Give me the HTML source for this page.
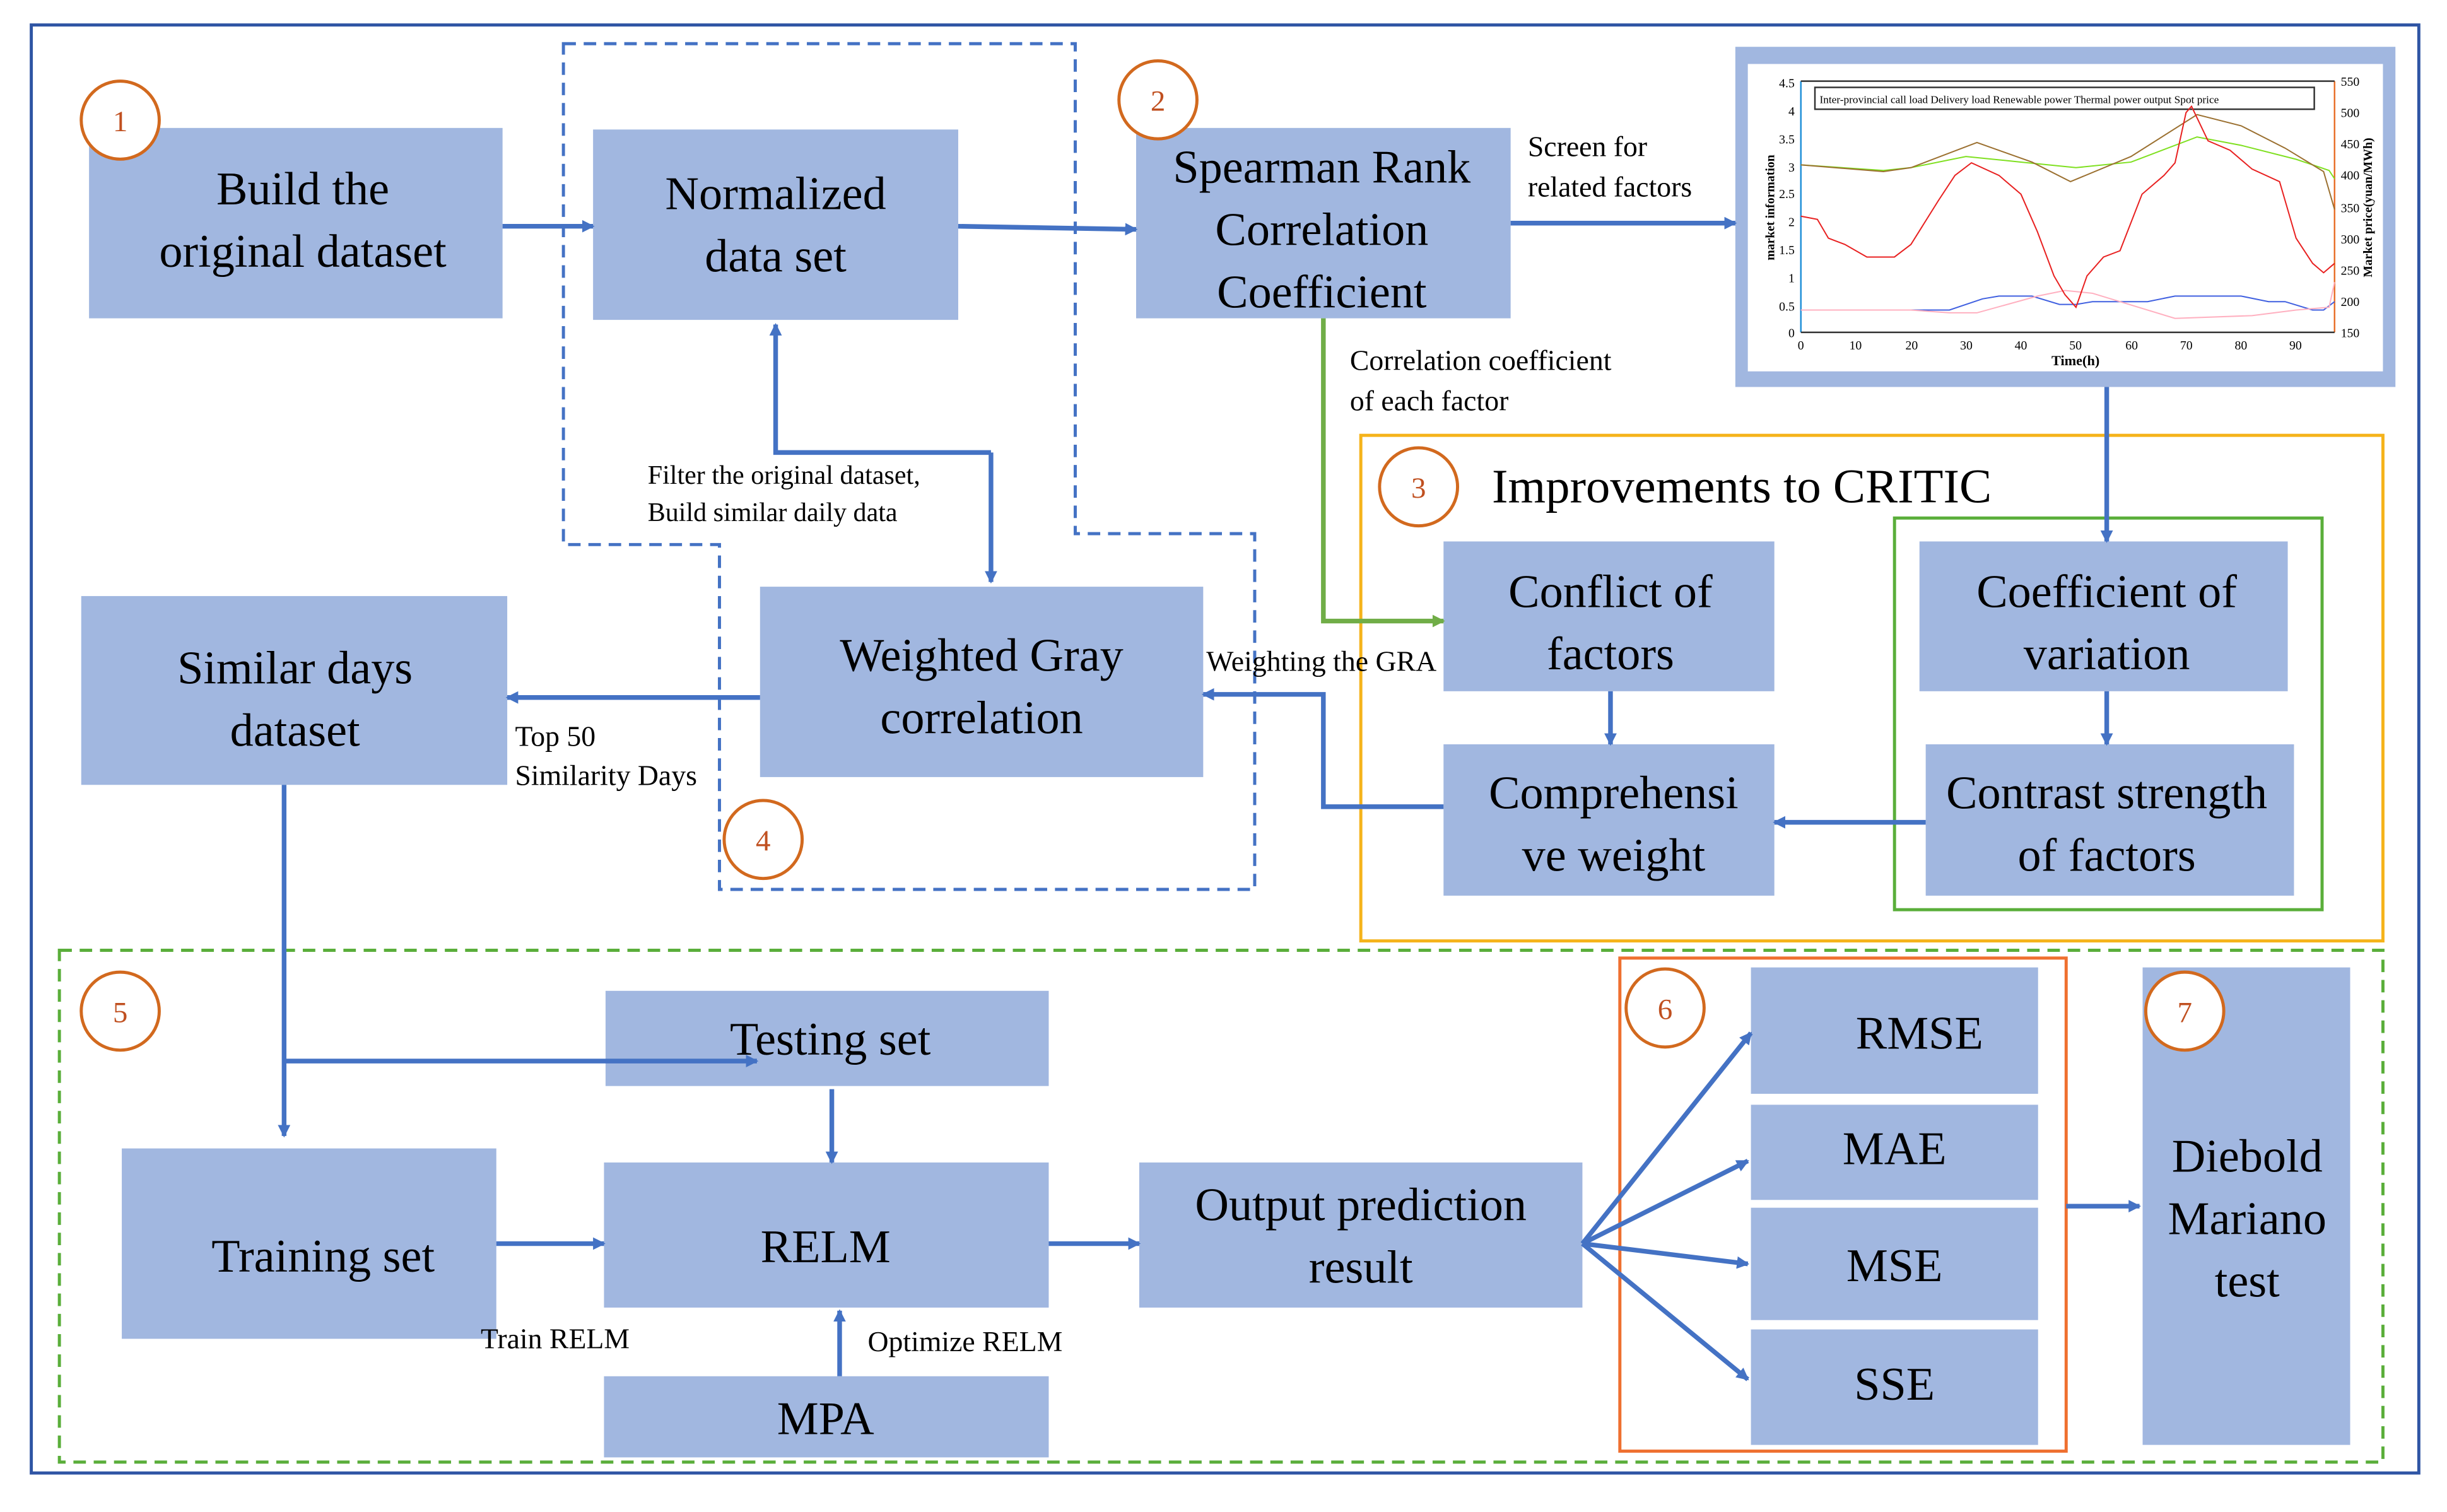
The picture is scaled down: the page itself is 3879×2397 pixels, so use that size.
<!DOCTYPE html>
<html><head><meta charset="utf-8"><style>
html,body{margin:0;padding:0;background:#fff;}
svg{display:block}
text{font-family:"Liberation Serif",serif;fill:#000}
.bt{font-size:30px;text-anchor:middle}
.lb{font-size:18.5px}
.ct{font-size:19px;fill:#c05020;text-anchor:middle}
.ax{font-size:8px;font-family:"Liberation Serif",serif}
</style></head><body>
<svg width="3879" height="2397" viewBox="0 0 1568 969" xmlns="http://www.w3.org/2000/svg">
<defs>
<marker id="a" markerWidth="8" markerHeight="8" refX="7" refY="4" orient="auto" markerUnits="userSpaceOnUse"><path d="M0,0 L8,4 L0,8 Z" fill="#4472c4"/></marker>
<marker id="g" markerWidth="8" markerHeight="8" refX="7" refY="4" orient="auto" markerUnits="userSpaceOnUse"><path d="M0,0 L8,4 L0,8 Z" fill="#70ad47"/></marker>
</defs>
<rect x="0" y="0" width="1568" height="969" fill="#fff"/>
<rect x="20" y="16" width="1530" height="928" fill="none" stroke="#2f55a4" stroke-width="2"/>

<path d="M361,28 H689 V342 H804 V570 H461 V349 H361 Z" fill="none" stroke="#4472c4" stroke-width="2" stroke-dasharray="8,5"/>
<rect x="872" y="279" width="655" height="324" fill="none" stroke="#f5b31a" stroke-width="2"/>
<rect x="1214" y="332" width="274" height="251" fill="none" stroke="#5aae3a" stroke-width="2"/>
<rect x="38" y="609" width="1489" height="328" fill="none" stroke="#5aae3a" stroke-width="2" stroke-dasharray="8,5"/>
<rect x="1038" y="614" width="286" height="316" fill="none" stroke="#ef7030" stroke-width="2"/>

<g fill="#a1b7e0">
<rect x="57" y="82" width="265" height="122"/>
<rect x="380" y="83" width="234" height="122"/>
<rect x="728" y="82" width="240" height="122"/>
<rect x="52" y="382" width="273" height="121"/>
<rect x="487" y="376" width="284" height="122"/>
<rect x="925" y="347" width="212" height="96"/>
<rect x="925" y="477" width="212" height="97"/>
<rect x="1230" y="347" width="236" height="96"/>
<rect x="1234" y="477" width="236" height="97"/>
<rect x="388" y="635" width="284" height="61"/>
<rect x="78" y="736" width="240" height="122"/>
<rect x="387" y="745" width="285" height="93"/>
<rect x="730" y="745" width="284" height="93"/>
<rect x="387" y="882" width="285" height="52"/>
<rect x="1122" y="620" width="184" height="81"/>
<rect x="1122" y="708" width="184" height="61"/>
<rect x="1122" y="774" width="184" height="72"/>
<rect x="1122" y="852" width="184" height="74"/>
<rect x="1373" y="620" width="133" height="306"/>
<rect x="1112" y="30" width="423" height="218"/>
</g>

<text class="bt" x="194" y="131">Build the</text>
<text class="bt" x="194" y="171">original dataset</text>
<text class="bt" x="497" y="134">Normalized</text>
<text class="bt" x="497" y="174">data set</text>
<text class="bt" x="847" y="117">Spearman Rank</text>
<text class="bt" x="847" y="157">Correlation</text>
<text class="bt" x="847" y="197">Coefficient</text>
<text class="bt" x="189" y="438">Similar days</text>
<text class="bt" x="189" y="478">dataset</text>
<text class="bt" x="629" y="430">Weighted Gray</text>
<text class="bt" x="629" y="470">correlation</text>
<text class="bt" x="1032" y="389">Conflict of</text>
<text class="bt" x="1032" y="429">factors</text>
<text class="bt" x="1034" y="518">Comprehensi</text>
<text class="bt" x="1034" y="558">ve weight</text>
<text class="bt" x="1350" y="389">Coefficient of</text>
<text class="bt" x="1350" y="429">variation</text>
<text class="bt" x="1350" y="518">Contrast strength</text>
<text class="bt" x="1350" y="558">of factors</text>
<text class="bt" x="532" y="676">Testing set</text>
<text class="bt" x="207" y="815">Training set</text>
<text class="bt" x="529" y="809">RELM</text>
<text class="bt" x="872" y="782">Output prediction</text>
<text class="bt" x="872" y="822">result</text>
<text class="bt" x="529" y="919">MPA</text>
<text class="bt" x="1230" y="672">RMSE</text>
<text class="bt" x="1214" y="746">MAE</text>
<text class="bt" x="1214" y="821">MSE</text>
<text class="bt" x="1214" y="897">SSE</text>
<text class="bt" x="1440" y="751">Diebold</text>
<text class="bt" x="1440" y="791">Mariano</text>
<text class="bt" x="1440" y="831">test</text>
<text x="956" y="322" style="font-size:31px">Improvements to CRITIC</text>

<g fill="#fff" stroke="#d2691e" stroke-width="2">
<circle cx="77" cy="77" r="25"/><circle cx="742" cy="64" r="25"/><circle cx="909" cy="312" r="25"/>
<circle cx="489" cy="538" r="25"/><circle cx="77" cy="648" r="25"/><circle cx="1067" cy="646" r="25"/><circle cx="1400" cy="648" r="25"/>
</g>
<text class="ct" x="77" y="84">1</text><text class="ct" x="742" y="71">2</text><text class="ct" x="909" y="319">3</text>
<text class="ct" x="489" y="545">4</text><text class="ct" x="77" y="655">5</text><text class="ct" x="1067" y="653">6</text><text class="ct" x="1400" y="655">7</text>

<text class="lb" x="979" y="100">Screen for</text>
<text class="lb" x="979" y="126">related factors</text>
<text class="lb" x="865" y="237">Correlation coefficient</text>
<text class="lb" x="865" y="263">of each factor</text>
<text class="lb" x="415" y="310" style="font-size:17px">Filter the original dataset,</text>
<text class="lb" x="415" y="334" style="font-size:17px">Build similar daily data</text>
<text class="lb" x="773" y="430">Weighting the GRA</text>
<text class="lb" x="330" y="478">Top 50</text>
<text class="lb" x="330" y="503">Similarity Days</text>
<text class="lb" x="308" y="864">Train RELM</text>
<text class="lb" x="556" y="866">Optimize RELM</text>

<g fill="none" stroke="#4472c4" stroke-width="3" marker-end="url(#a)">
<path d="M322,145 H380"/>
<path d="M614,145 L728,147"/>
<path d="M968,143 H1112"/>
<path d="M1350,248 V347"/>
<path d="M1350,443 V477"/>
<path d="M1032,443 V477"/>
<path d="M1234,527 H1137"/>
<path d="M925,517 H848 V445 H771"/>
<path d="M487,447 H325"/>
<path d="M635,290 H497 V208"/>
<path d="M635,290 V373"/>
<path d="M182,503 V728"/>
<path d="M182,680 H485"/>
<path d="M533,698 V745"/>
<path d="M318,797 H387"/>
<path d="M672,797 H730"/>
<path d="M538,882 V840"/>
<path d="M1014,797 L1122,662"/>
<path d="M1014,797 L1120,744"/>
<path d="M1014,797 L1120,810"/>
<path d="M1014,797 L1120,884"/>
<path d="M1324,773 H1371"/>
</g>
<path d="M848,204 V398 H925" fill="none" stroke="#70ad47" stroke-width="3" marker-end="url(#g)"/>

<rect x="1120" y="41" width="407" height="197" fill="#fff"/>
<g stroke-width="1" fill="none">
<line x1="1154" y1="52" x2="1154" y2="213" stroke="#1f8fd8"/>
<line x1="1496" y1="52" x2="1496" y2="213" stroke="#e8702a"/>
<line x1="1154" y1="213" x2="1496" y2="213" stroke="#333"/>
<line x1="1154" y1="52" x2="1496" y2="52" stroke="#333"/>
<rect x="1163" y="56" width="320" height="14" stroke="#333" fill="#fff"/>
</g>
<g class="ax">
<text x="1150" y="216" text-anchor="end" fill="#1f8fd8">0</text>
<text x="1150" y="199" text-anchor="end" fill="#1f8fd8">0.5</text>
<text x="1150" y="181" text-anchor="end" fill="#1f8fd8">1</text>
<text x="1150" y="163" text-anchor="end" fill="#1f8fd8">1.5</text>
<text x="1150" y="145" text-anchor="end" fill="#1f8fd8">2</text>
<text x="1150" y="127" text-anchor="end" fill="#1f8fd8">2.5</text>
<text x="1150" y="110" text-anchor="end" fill="#1f8fd8">3</text>
<text x="1150" y="92" text-anchor="end" fill="#1f8fd8">3.5</text>
<text x="1150" y="74" text-anchor="end" fill="#1f8fd8">4</text>
<text x="1150" y="56" text-anchor="end" fill="#1f8fd8">4.5</text>
<text x="1500" y="216" fill="#e8702a">150</text>
<text x="1500" y="196" fill="#e8702a">200</text>
<text x="1500" y="176" fill="#e8702a">250</text>
<text x="1500" y="156" fill="#e8702a">300</text>
<text x="1500" y="136" fill="#e8702a">350</text>
<text x="1500" y="115" fill="#e8702a">400</text>
<text x="1500" y="95" fill="#e8702a">450</text>
<text x="1500" y="75" fill="#e8702a">500</text>
<text x="1500" y="55" fill="#e8702a">550</text>
<text x="1154" y="224" text-anchor="middle">0</text><text x="1189" y="224" text-anchor="middle">10</text>
<text x="1225" y="224" text-anchor="middle">20</text><text x="1260" y="224" text-anchor="middle">30</text>
<text x="1295" y="224" text-anchor="middle">40</text><text x="1330" y="224" text-anchor="middle">50</text>
<text x="1366" y="224" text-anchor="middle">60</text><text x="1401" y="224" text-anchor="middle">70</text>
<text x="1436" y="224" text-anchor="middle">80</text><text x="1471" y="224" text-anchor="middle">90</text>
<text x="1330" y="234" text-anchor="middle" style="font-size:9px;font-weight:bold">Time(h)</text>
<text x="1166" y="66" style="font-size:7px">Inter-provincial call load  Delivery load  Renewable power  Thermal power output  Spot price</text>
<text transform="translate(1137,133) rotate(-90)" text-anchor="middle" fill="#1f8fd8" style="font-size:8px;font-weight:bold">market information</text>
<text transform="translate(1520,133) rotate(-90)" text-anchor="middle" fill="#e8702a" style="font-size:8px;font-weight:bold">Market price(yuan/MWh)</text>
</g>
<g transform="matrix(3.526 0 0 -35.78 1154 213)" fill="none" stroke-width="2">
<polyline vector-effect="non-scaling-stroke" stroke="#7fe020" points="0,3 15,2.9 20,2.95 30,3.15 40,3.05 50,2.95 60,3.05 72,3.5 80,3.35 90,3.1 96,2.9 97,2.75"/>
<polyline vector-effect="non-scaling-stroke" stroke="#9b7030" points="0,3 15,2.88 20,2.95 32,3.4 42,3.05 49,2.7 60,3.15 72,3.9 80,3.7 88,3.3 95,2.88 97,2.2"/>
<polyline vector-effect="non-scaling-stroke" stroke="#4060e0" points="0,0.4 27,0.4 33,0.6 36,0.65 42,0.65 47,0.5 50,0.5 53,0.55 63,0.55 68,0.65 72,0.65 80,0.65 85,0.55 88,0.55 93,0.4 95,0.4 97,0.55"/>
<polyline vector-effect="non-scaling-stroke" stroke="#ffb0c0" points="0,0.4 20,0.4 27,0.35 32,0.35 43,0.65 48,0.75 53,0.7 68,0.25 82,0.3 90,0.4 96,0.45 97,0.9"/>
</g>
<g transform="matrix(3.526 0 0 -0.4025 1154 273.4)" fill="none">
<polyline vector-effect="non-scaling-stroke" stroke="#e82020" stroke-width="2" points="0,335 3,330 5,300 8,290 12,270 17,270 20,290 25,360 28,400 31,420 36,400 40,370 43,310 46,240 48,210 50,190 52,240 55,270 58,280 62,370 66,400 68,420 70,500 71,510 74,455 78,440 82,410 87,390 90,300 93,260 95,245 97,260"/>
</g>
</svg>
</body></html>
